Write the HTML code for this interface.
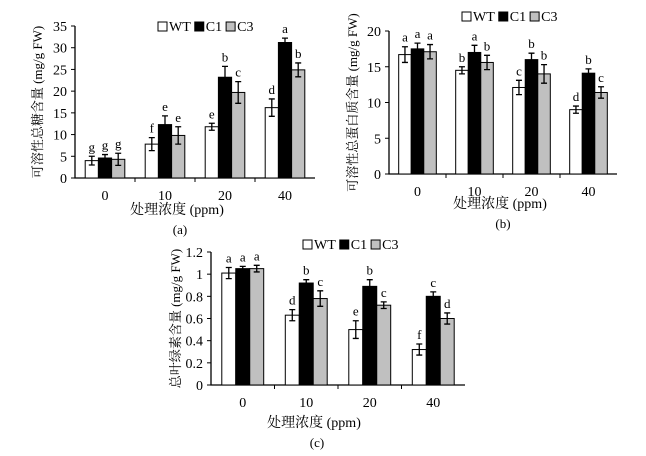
<!DOCTYPE html>
<html><head><meta charset="utf-8">
<style>
body{margin:0;background:#fff;width:646px;height:456px;overflow:hidden}
svg{position:absolute;left:0;top:0}
text{font-family:"Liberation Serif","Noto Serif CJK SC",serif;fill:#000}
</style></head>
<body>
<svg id="fig" width="646" height="456"></svg>
<script>
const categories=["0","10","20","40"];
const aWT=[4,7.8,11.8,16.2], aWTe=[1,1.5,0.8,2];
const aC1=[4.6,12.3,23.2,31.2], aC1e=[0.8,2,2.5,1];
const aC3=[4.3,9.8,19.7,24.9], aC3e=[1.4,2,2.5,1.6];
const aLet=[["g","f","e","d"],["g","e","b","a"],["g","e","c","b"]];
const aTicks=[0,5,10,15,20,25,30,35];
const bWT=[16.7,14.5,12.1,9], bWTe=[1.1,0.5,1,0.5];
const bC1=[17.5,17,16,14.1], bC1e=[0.8,1,0.9,0.6];
const bC3=[17.1,15.6,14,11.4], bC3e=[1,1,1.3,0.8];
const bLet=[["a","b","c","d"],["a","a","b","b"],["a","b","b","c"]];
const bTicks=[0,5,10,15,20];
const cWT=[1.01,0.63,0.50,0.32], cWTe=[0.05,0.05,0.08,0.05];
const cC1=[1.05,0.92,0.89,0.80], cC1e=[0.02,0.03,0.06,0.04];
const cC3=[1.05,0.78,0.72,0.60], cC3e=[0.03,0.07,0.03,0.05];
const cLet=[["a","d","e","f"],["a","b","b","c"],["a","c","c","d"]];
const cTicks=[0,0.2,0.4,0.6,0.8,1,1.2];
const NS="http://www.w3.org/2000/svg";
const svg=document.getElementById('fig');
function mk(tag,attrs,parent,txt){const e=document.createElementNS(NS,tag);for(const k in attrs)e.setAttribute(k,attrs[k]);if(txt!==undefined)e.textContent=txt;(parent||svg).appendChild(e);return e;}
const fills=["#fff","#000","#c0c0c0"];
function chart(o){
  const g=mk('g',{});
  
  
  const y=v=>o.y0-(v/o.max)*(o.y0-o.ytop);
  const cw=(o.x1-o.x0)/categories.length;
  const cx=i=>o.x0+cw*(i+0.5);
  const bw=cw*0.22;
  const ax=mk('path',{d:`M${o.x0},${o.ytop}V${o.y0}H${o.x1}`,stroke:'#000',fill:'none','stroke-width':1.3},g);
  
  o.ticks.forEach(t=>{
    mk('line',{x1:o.x0-4,x2:o.x0,y1:y(t),y2:y(t),stroke:'#000'},g);
    const tl=mk('text',{x:o.x0-8,y:y(t)+5,'text-anchor':'end','font-size':14},g,String(t));
    
  });
  for(let i=1;i<categories.length;i++)mk('line',{x1:o.x0+cw*i,x2:o.x0+cw*i,y1:o.y0,y2:o.y0+4,stroke:'#000'},g);
  categories.forEach((c,i)=>{
    const tl=mk('text',{x:cx(i),y:o.y0+22,'text-anchor':'middle','font-size':14},g,c);
    
    o.series.forEach((s,k)=>{
      const bx=cx(i)-1.5*bw+k*bw, v=s[0][i], e=s[1][i];
      const r=mk('rect',{x:bx,y:y(v),width:bw,height:o.y0-y(v),fill:fills[k],stroke:'#000','stroke-width':1},g);
      
      
      const m=bx+bw/2;
      const eb=mk('path',{d:`M${m},${y(v+e)}V${y(v-e)}M${m-3},${y(v+e)}H${m+3}M${m-3},${y(v-e)}H${m+3}`,stroke:'#000','stroke-width':1.3,fill:'none'},g);
      
      const lt=mk('text',{x:m,y:y(v+e)-5,'text-anchor':'middle','font-size':13},g,o.letters[k][i]);
      
    });
  });
  const yt=mk('text',{x:0,y:0,'text-anchor':'middle','font-size':13,transform:`translate(${o.ytx},${(o.ytop+o.y0)/2}) rotate(-90)`},g,o.ytitle);
  
  const xt=mk('text',{x:o.xtx,y:o.xty,'text-anchor':'middle','font-size':14},g,'处理浓度 (ppm)');
  
  const pl=mk('text',{x:o.xtx+3,y:o.xty+20,'text-anchor':'middle','font-size':13},g,o.panel);
  
  const lg=mk('g',{},g);
  
  let lx=o.lx;
  ["WT","C1","C3"].forEach((n,k)=>{
    mk('rect',{x:lx,y:o.ly-9,width:9,height:9,fill:fills[k],stroke:'#000'},lg);
    const t=mk('text',{x:lx+11,y:o.ly,'font-size':14,'font-family':'Liberation Serif, serif'},lg,n);
    
    let w=18; try{w=t.getComputedTextLength();}catch(e){}
    lx+=11+w+4;
  });
}
chart({name:'chart-a',x0:75,x1:315,y0:178,ytop:26,max:35,ticks:aTicks,
  series:[[aWT,aWTe],[aC1,aC1e],[aC3,aC3e]],letters:aLet,ytitle:'可溶性总糖含量 (mg/g FW)',ytx:42,
  xtx:177,xty:214,panel:'(a)',lx:158,ly:31});
chart({name:'chart-b',x0:389,x1:617,y0:174,ytop:31,max:20,ticks:bTicks,
  series:[[bWT,bWTe],[bC1,bC1e],[bC3,bC3e]],letters:bLet,ytitle:'可溶性总蛋白质含量 (mg/g FW)',ytx:357,
  xtx:500,xty:208,panel:'(b)',lx:462,ly:21});
chart({name:'chart-c',x0:211,x1:465,y0:385,ytop:252,max:1.2,ticks:cTicks,
  series:[[cWT,cWTe],[cC1,cC1e],[cC3,cC3e]],letters:cLet,ytitle:'总叶绿素含量 (mg/g FW)',ytx:180,
  xtx:314,xty:427,panel:'(c)',lx:303,ly:249});
</script>
</body></html>
